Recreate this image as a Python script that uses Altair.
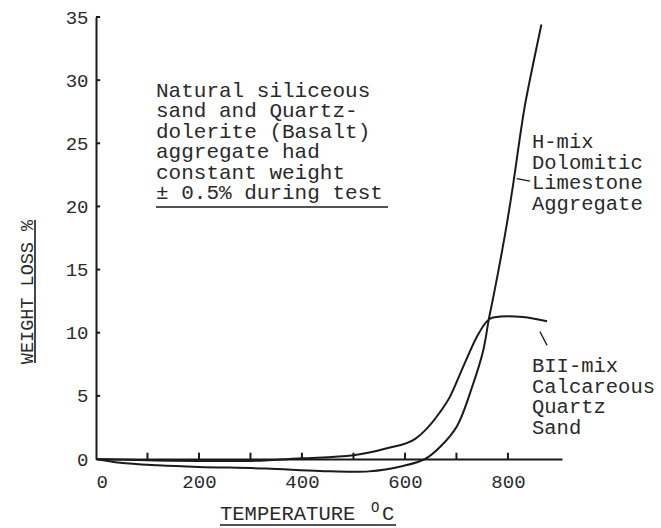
import altair as alt
import pandas as pd

# H-mix, dolomitic limestone aggregate
h_temp = [0, 47, 120, 200, 330, 435, 530, 596, 639, 668, 701, 732, 752, 763, 771,
          781, 797, 810, 823, 833, 849, 865]
h_loss = [0, -0.3, -0.5, -0.63, -0.75, -0.95, -0.98, -0.55, 0, 0.95, 2.6, 5.9, 8.6,
          11.1, 12.7, 14.8, 18.4, 21.7, 25.4, 28.0, 31.3, 34.4]

# BII-mix, calcareous quartz sand
b_temp = [0, 100, 200, 300, 400, 500, 565, 620, 668, 687, 713, 740, 759, 771, 800,
          829, 876]
b_loss = [0, -0.1, -0.15, -0.15, 0.05, 0.3, 0.85, 1.6, 3.7, 4.9, 7.3, 9.7, 10.9,
          11.2, 11.3, 11.25, 10.9]

# leader lines from the curve labels
h_lead_temp = [817, 843]
h_lead_loss = [22.2, 22.0]
b_lead_temp = [862, 876]
b_lead_loss = [10.1, 9.0]

x_tick_marks = [100, 200, 300, 400, 500, 600, 700, 800]
x_tick_labels = [0, 200, 400, 600, 800]
y_ticks = [0, 5, 10, 15, 20, 25, 30, 35]

note_lines = ["Natural siliceous", "sand and Quartz-", "dolerite (Basalt)",
              "aggregate had", "constant weight", "± 0.5% during test"]
h_label = ["H-mix", "Dolomitic", "Limestone", "Aggregate"]
b_label = ["BII-mix", "Calcareous", "Quartz", "Sand"]

FONT = "Liberation Mono"
INK = "#1a1a1a"
TXT = "#2a2a2a"

xs = alt.Scale(domain=[0, 905], nice=False, zero=False)
ys = alt.Scale(domain=[0, 35], nice=False, zero=False)

x_axis = alt.Axis(values=x_tick_labels, title=None, grid=False,
                  ticks=False, tickSize=0, labelPadding=13,
                  labelFont=FONT, labelFontSize=19, labelColor=TXT,
                  domainColor=INK, domainWidth=2)
y_axis = alt.Axis(values=y_ticks, title=None, grid=False,
                  ticks=False, tickSize=0, labelPadding=8,
                  labelFont=FONT, labelFontSize=19, labelColor=TXT,
                  domainColor=INK, domainWidth=2)

h_line = alt.Chart(pd.DataFrame({"temp": h_temp, "loss": h_loss})).mark_line(
    color=INK, strokeWidth=2, interpolate="catmull-rom"
).encode(x=alt.X("temp:Q", scale=xs, axis=x_axis),
         y=alt.Y("loss:Q", scale=ys, axis=y_axis), order="temp:Q")

b_line = alt.Chart(pd.DataFrame({"temp": b_temp, "loss": b_loss})).mark_line(
    color=INK, strokeWidth=2, interpolate="monotone"
).encode(x=alt.X("temp:Q", scale=xs), y=alt.Y("loss:Q", scale=ys), order="temp:Q")

leaders = alt.Chart(pd.concat([
    pd.DataFrame({"temp": h_lead_temp, "loss": h_lead_loss, "k": "h"}),
    pd.DataFrame({"temp": b_lead_temp, "loss": b_lead_loss, "k": "b"}),
])).mark_line(color=INK, strokeWidth=1.3).encode(
    x=alt.X("temp:Q", scale=xs), y=alt.Y("loss:Q", scale=ys), detail="k:N")

# inward tick marks on both axes
xticks = alt.Chart(pd.DataFrame({"temp": x_tick_marks})).mark_rule(
    color=INK, strokeWidth=2).encode(
    x=alt.X("temp:Q", scale=xs), y=alt.datum(0, scale=ys), y2=alt.datum(0.5))
yticks = alt.Chart(pd.DataFrame({"loss": y_ticks[1:]})).mark_rule(
    color=INK, strokeWidth=2).encode(
    y=alt.Y("loss:Q", scale=ys), x=alt.datum(0, scale=xs), x2=alt.datum(8))


def block(lines_, x, y, size=21, lh=20.5):
    return alt.Chart(pd.DataFrame({"t": ["\n".join(lines_)]})).mark_text(
        font=FONT, fontSize=size, color=TXT, align="left", baseline="alphabetic",
        lineBreak="\n", lineHeight=lh
    ).encode(text="t:N", x=alt.value(x), y=alt.value(y))


def rule_px(x1, x2, y1, y2, w=1.6):
    return alt.Chart(pd.DataFrame({"a": [0]})).mark_rule(
        color=INK, strokeWidth=w).encode(
        x=alt.value(x1), x2=alt.value(x2), y=alt.value(y1), y2=alt.value(y2))


note = block(note_lines, 60, 80, lh=20.4)
note_ul = rule_px(60, 292, 190, 190)
h_txt = block(h_label, 436, 131, size=20.5)
b_txt = block(b_label, 436, 355, size=20.5)

ytitle = alt.Chart(pd.DataFrame({"t": ["WEIGHT LOSS %"]})).mark_text(
    font=FONT, fontSize=18.5, color=TXT, angle=270, align="center",
    baseline="middle").encode(text="t:N", x=alt.value(-69), y=alt.value(275))
ytitle_ul = rule_px(-61, -61, 203, 346)

xtitle = alt.Chart(pd.DataFrame({"t": ["TEMPERATURE"]})).mark_text(
    font=FONT, fontSize=20.5, color=TXT, align="left",
    baseline="alphabetic").encode(text="t:N", x=alt.value(124), y=alt.value(503))
xdeg = alt.Chart(pd.DataFrame({"t": ["O"]})).mark_text(
    font=FONT, fontSize=14, color=TXT, align="left",
    baseline="alphabetic").encode(text="t:N", x=alt.value(275), y=alt.value(495))
xunit = alt.Chart(pd.DataFrame({"t": ["C"]})).mark_text(
    font=FONT, fontSize=20.5, color=TXT, align="left",
    baseline="alphabetic").encode(text="t:N", x=alt.value(286), y=alt.value(503))
xtitle_ul = rule_px(124, 300, 508, 508)

chart = alt.layer(
    h_line, b_line, leaders, xticks, yticks, note, note_ul, h_txt, b_txt,
    ytitle, ytitle_ul, xtitle, xdeg, xunit, xtitle_ul
).properties(
    width=466, height=442,
    autosize=alt.AutoSizeParams(type="none"),
    padding={"left": 96, "top": 17, "right": 99, "bottom": 69},
    background="white",
).configure_view(stroke=None)

chart.save("out.html", embed_options={"renderer": "svg", "actions": False})
